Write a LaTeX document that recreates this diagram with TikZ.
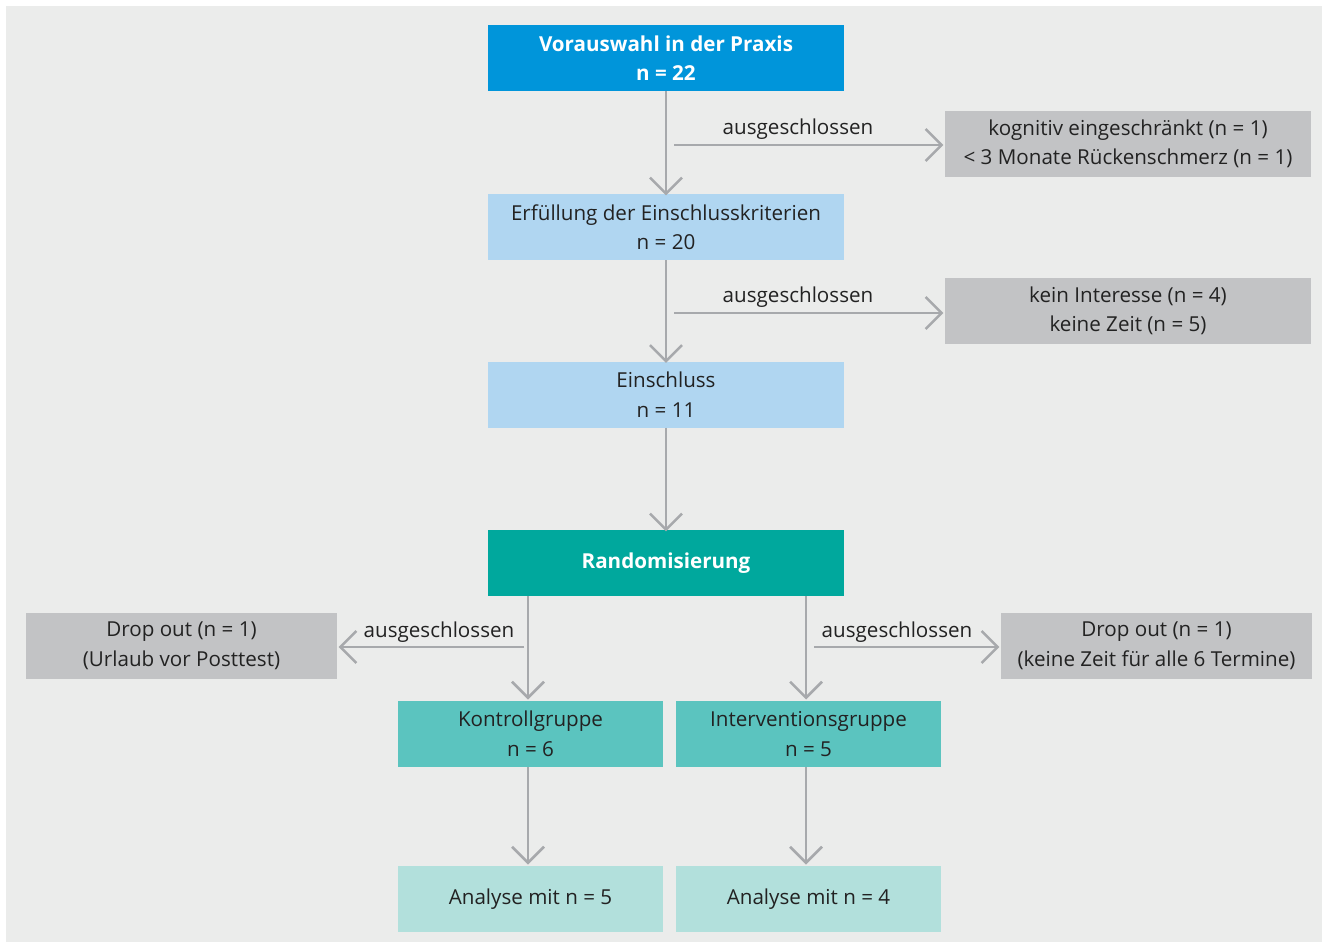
\documentclass[tikz,border=0pt]{standalone}
\usepackage{fontspec}
\setmainfont{Open Sans}
\usetikzlibrary{arrows.meta}
\definecolor{bg}{HTML}{EBECEB}
\definecolor{blueA}{HTML}{0095DA}
\definecolor{blueL}{HTML}{B0D6F1}
\definecolor{tealA}{HTML}{00A89D}
\definecolor{tealM}{HTML}{5BC4BF}
\definecolor{tealL}{HTML}{B2E0DC}
\definecolor{greyB}{HTML}{C2C3C5}
\definecolor{lineG}{HTML}{A7A9AC}
\definecolor{txt}{HTML}{222222}
\tikzset{
  x=1pt, y=-1pt,
  box/.style={minimum height=66pt, inner sep=0pt, align=center, text=txt, font=\fontsize{20.6}{29.5}\selectfont},
  boldbox/.style={box, text=white, font=\fontsize{20.6}{29.5}\selectfont\bfseries},
  conn/.style={draw=lineG, line width=2.5pt, -{Straight Barb[length=16pt,width=32pt,line width=2.5pt]}},
  lbl/.style={text=txt, font=\fontsize{20.6}{25}\selectfont, inner sep=0pt}
}
\begin{document}
\begin{tikzpicture}
\useasboundingbox (0,0) rectangle (1325,945);
\fill[white] (0,0) rectangle (1325,945);
\fill[bg] (6,6) rectangle (1322,942);
% main column
\node[boldbox, fill=blueA, minimum width=356pt] (pre) at (666,58) {Vorauswahl in der Praxis\\n = 22};
\node[box, fill=blueL, minimum width=356pt] (crit) at (666,227) {Erfüllung der Einschlusskriterien\\n = 20};
\node[box, fill=blueL, minimum width=356pt] (incl) at (666,394.5) {Einschluss\\n = 11};
\node[boldbox, fill=tealA, minimum width=356pt] (rand) at (666,563) {Randomisierung};
% exclusion boxes
\node[box, fill=greyB, minimum width=366pt] (ex1) at (1128,144) {kognitiv eingeschränkt (n = 1)\\< 3 Monate Rückenschmerz (n = 1)};
\node[box, fill=greyB, minimum width=366pt] (ex2) at (1128,311) {kein Interesse (n = 4)\\keine Zeit (n = 5)};
\node[box, fill=greyB, minimum width=311pt] (dl) at (181.5,646) {Drop out (n = 1)\\(Urlaub vor Posttest)};
\node[box, fill=greyB, minimum width=311pt] (dr) at (1156.5,646) {Drop out (n = 1)\\(keine Zeit für alle 6 Termine)};
% groups
\node[box, fill=tealM, minimum width=265pt] (kg) at (530.5,734) {Kontrollgruppe\\n = 6};
\node[box, fill=tealM, minimum width=265pt] (ig) at (808.5,734) {Interventionsgruppe\\n = 5};
\node[box, fill=tealL, minimum width=265pt] (ak) at (530.5,899) {Analyse mit n = 5};
\node[box, fill=tealL, minimum width=265pt] (ai) at (808.5,899) {Analyse mit n = 4};
% coordinates for side branches
\coordinate (b1) at (674,145);
\coordinate (b2) at (674,313);
\coordinate (bl) at (524,647);
\coordinate (br) at (814,647);
% vertical connectors
\draw[conn] (pre.south) -- ([yshift=-1.5pt]crit.north);
\draw[conn] (crit.south) -- ([yshift=-1.5pt]incl.north);
\draw[conn] (incl.south) -- ([yshift=-1.5pt]rand.north);
\draw[conn] (rand.south -| 528,0) -- (528,699.5);
\draw[conn] (rand.south -| 806,0) -- (806,699.5);
\draw[conn] (kg.south -| 528,0) -- (528,864.5);
\draw[conn] (ig.south -| 806,0) -- (806,864.5);
% side connectors
\draw[conn] (b1) -- ([xshift=-1.5pt]ex1.west |- b1);
\draw[conn] (b2) -- ([xshift=-1.5pt]ex2.west |- b2);
\draw[conn] (bl) -- ([xshift=1.5pt]dl.east |- bl);
\draw[conn] (br) -- ([xshift=-1.5pt]dr.west |- br);
% labels
\node[lbl] (l1) at (798,129) {ausgeschlossen};
\node[lbl] (l2) at (798,297) {ausgeschlossen};
\node[lbl] (l3) at (439,632) {ausgeschlossen};
\node[lbl] (l4) at (897,632) {ausgeschlossen};
\end{tikzpicture}
\end{document}
